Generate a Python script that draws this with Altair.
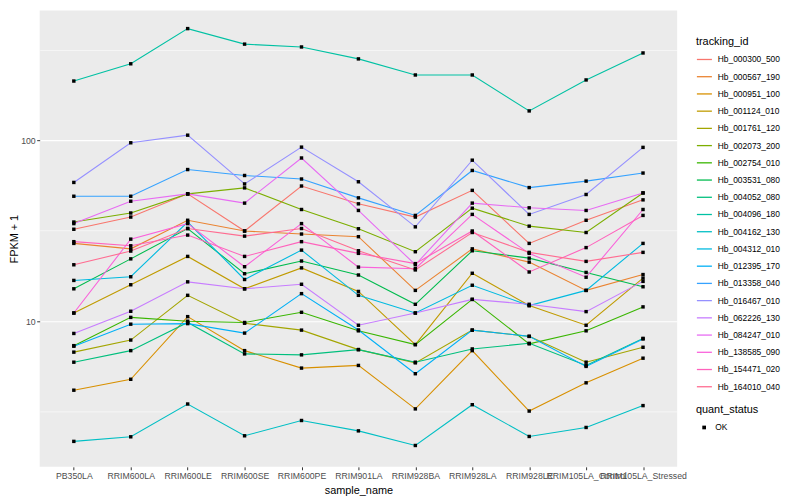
import altair as alt
import pandas as pd

samples = ["PB350LA", "RRIM600LA", "RRIM600LE", "RRIM600SE", "RRIM600PE", "RRIM901LA",
           "RRIM928BA", "RRIM928LA", "RRIM928LE", "RRIM105LA_Control", "RRIM105LA_Stressed"]

hb_000300_500 = [32.2, 37.6, 50.5, 31.5, 55.8, 44.5, 37.6, 52.8, 26.9, 36.1, 46.8]
hb_000567_190 = [26.9, 25.1, 36.1, 31.5, 30.3, 29.3, 14.8, 25.1, 21.2, 14.8, 18.1]
hb_000951_100 = [4.16, 4.78, 10.6, 6.88, 5.51, 5.7, 3.28, 6.88, 3.19, 4.57, 6.25]
hb_001124_010 = [11.1, 15.9, 22.8, 15.1, 19.7, 14.6, 7.43, 18.4, 12.2, 9.5, 17.3]
hb_001761_120 = [6.75, 7.87, 13.9, 9.75, 8.93, 6.97, 5.89, 8.93, 8.25, 5.94, 7.18]
hb_002073_200 = [35.3, 39.6, 50.5, 54.5, 41.4, 32.4, 24.2, 42.1, 33.5, 30.9, 51.1]
hb_002754_010 = [7.33, 10.5, 10.0, 9.84, 11.2, 8.85, 7.43, 13.2, 7.5, 8.85, 12.0]
hb_003531_080 = [15.1, 22.1, 32.5, 18.3, 21.5, 18.0, 12.4, 24.5, 22.3, 18.6, 15.5]
hb_004052_080 = [5.94, 6.88, 9.84, 6.6, 6.52, 6.97, 5.94, 7.03, 7.55, 5.7, 8.04]
hb_004096_180 = [212, 264, 413, 339, 327, 281, 229, 229, 145, 215, 303]
hb_004162_130 = [2.17, 2.30, 3.49, 2.33, 2.83, 2.48, 2.06, 3.46, 2.31, 2.59, 3.42]
hb_004312_010 = [16.8, 17.6, 35.3, 17.0, 24.7, 13.9, 11.1, 15.8, 12.2, 14.8, 26.9]
hb_012395_170 = [7.28, 9.63, 9.7, 8.6, 14.2, 8.95, 5.13, 8.93, 8.25, 5.63, 7.98]
hb_013358_040 = [49.0, 49.0, 68.8, 63.8, 61.0, 48.0, 38.4, 68.0, 54.7, 59.4, 65.8]
hb_016467_010 = [58.4, 96.7, 106.5, 57.3, 91.5, 58.9, 33.2, 77.5, 38.9, 50.1, 91.2]
hb_062226_130 = [8.56, 11.35, 16.5, 15.1, 16.0, 9.5, 11.1, 13.2, 12.4, 11.3, 16.6]
hb_084247_010 = [34.6, 46.0, 50.5, 44.9, 79.7, 40.9, 20.5, 44.9, 42.3, 40.9, 51.1]
hb_138585_090 = [11.1, 28.4, 34.6, 20.0, 34.6, 19.9, 19.5, 38.9, 23.7, 17.5, 41.4]
hb_154471_020 = [27.5, 26.1, 29.9, 22.8, 27.5, 23.7, 20.8, 31.5, 18.7, 25.5, 38.4]
hb_164010_040 = [20.5, 24.4, 32.5, 29.5, 32.5, 24.5, 19.2, 30.9, 24.0, 21.4, 24.0]

series = {
    "Hb_000300_500": hb_000300_500, "Hb_000567_190": hb_000567_190,
    "Hb_000951_100": hb_000951_100, "Hb_001124_010": hb_001124_010,
    "Hb_001761_120": hb_001761_120, "Hb_002073_200": hb_002073_200,
    "Hb_002754_010": hb_002754_010, "Hb_003531_080": hb_003531_080,
    "Hb_004052_080": hb_004052_080, "Hb_004096_180": hb_004096_180,
    "Hb_004162_130": hb_004162_130, "Hb_004312_010": hb_004312_010,
    "Hb_012395_170": hb_012395_170, "Hb_013358_040": hb_013358_040,
    "Hb_016467_010": hb_016467_010, "Hb_062226_130": hb_062226_130,
    "Hb_084247_010": hb_084247_010, "Hb_138585_090": hb_138585_090,
    "Hb_154471_020": hb_154471_020, "Hb_164010_040": hb_164010_040,
}
ids = list(series.keys())
palette = ["#F8766D", "#EA8331", "#D89000", "#C09B00", "#A3A500", "#7CAE00", "#39B600",
           "#00BB4E", "#00BF7D", "#00C1A3", "#00BFC4", "#00BAE0", "#00B0F6", "#35A2FF",
           "#9590FF", "#C77CFF", "#E76BF3", "#FA62DB", "#FF62BC", "#FF6C91"]

rows = []
for k, tid in enumerate(ids):
    for i, s in enumerate(samples):
        rows.append({"tracking_id": tid, "sample_name": s, "fpkm": series[tid][i],
                     "quant_status": "OK", "order": k})
df = pd.DataFrame(rows)

major = "datum.value == 10 || datum.value == 100"

x_enc = alt.X("sample_name:N", sort=samples,
              scale=alt.Scale(type="point", padding=0.6),
              axis=alt.Axis(title="sample_name", labelAngle=0, labelOverlap=False,
                            labelPadding=2, titlePadding=4, tickSize=3,
                            gridColor="white", gridWidth=1.1))
y_enc = alt.Y("fpkm:Q",
              scale=alt.Scale(type="log", domain=[1.57, 520], nice=False),
              axis=alt.Axis(title="FPKM + 1", values=[3.1623, 10, 31.623, 100, 316.23],
                            format=".0f",
                            labelExpr="(" + major + ") ? datum.label : ''",
                            tickOpacity=alt.condition(major, alt.value(1), alt.value(0)),
                            gridWidth=alt.condition(major, alt.value(1.1), alt.value(0.55)),
                            gridColor="white", tickSize=3, labelPadding=1.5, titlePadding=1))

lines = alt.Chart(df).mark_line(strokeWidth=1.1).encode(
    x=x_enc, y=y_enc,
    color=alt.Color("tracking_id:N", scale=alt.Scale(domain=ids, range=palette),
                    legend=alt.Legend(title="tracking_id", symbolType="stroke",
                                      symbolSize=230, symbolStrokeWidth=1.3,
                                      labelFontSize=8.5, rowPadding=4.4,
                                      titlePadding=4, labelOffset=5,
                                      orient="none", legendX=663, legendY=26)),
    detail="tracking_id:N",
    order="order:Q",
)

points = alt.Chart(df).mark_point(filled=True, opacity=1, size=12, color="black").encode(
    x=x_enc, y=y_enc,
    shape=alt.Shape("quant_status:N", scale=alt.Scale(range=["square"]),
                    legend=alt.Legend(title="quant_status", symbolFillColor="black",
                                      symbolStrokeColor="black", symbolSize=14,
                                      labelFontSize=8.5, titlePadding=8, labelOffset=7,
                                      symbolOffset=4,
                                      orient="none", legendX=663, legendY=398)),
)

chart = alt.layer(lines, points).resolve_legend(color="independent").properties(
    width=644, height=461,
    autosize=alt.AutoSizeParams(type="none"),
    padding={"left": 32, "top": 0, "right": 116, "bottom": 31},
).configure(font="Liberation Sans").configure_view(
    fill="#EBEBEB", stroke=None
).configure_axis(
    domain=False, labelColor="#4D4D4D", labelFontSize=8.8, tickColor="#333333",
    titleFontSize=11, titleFontWeight="normal", titleColor="black",
    labelFont="Liberation Sans", titleFont="Liberation Sans",
).configure_legend(
    titleFontSize=11, titleFontWeight="normal", titleColor="black", labelColor="black",
    labelFont="Liberation Sans", titleFont="Liberation Sans", padding=0
)

chart.save("out.html", embed_options={"renderer": "svg", "actions": False})
